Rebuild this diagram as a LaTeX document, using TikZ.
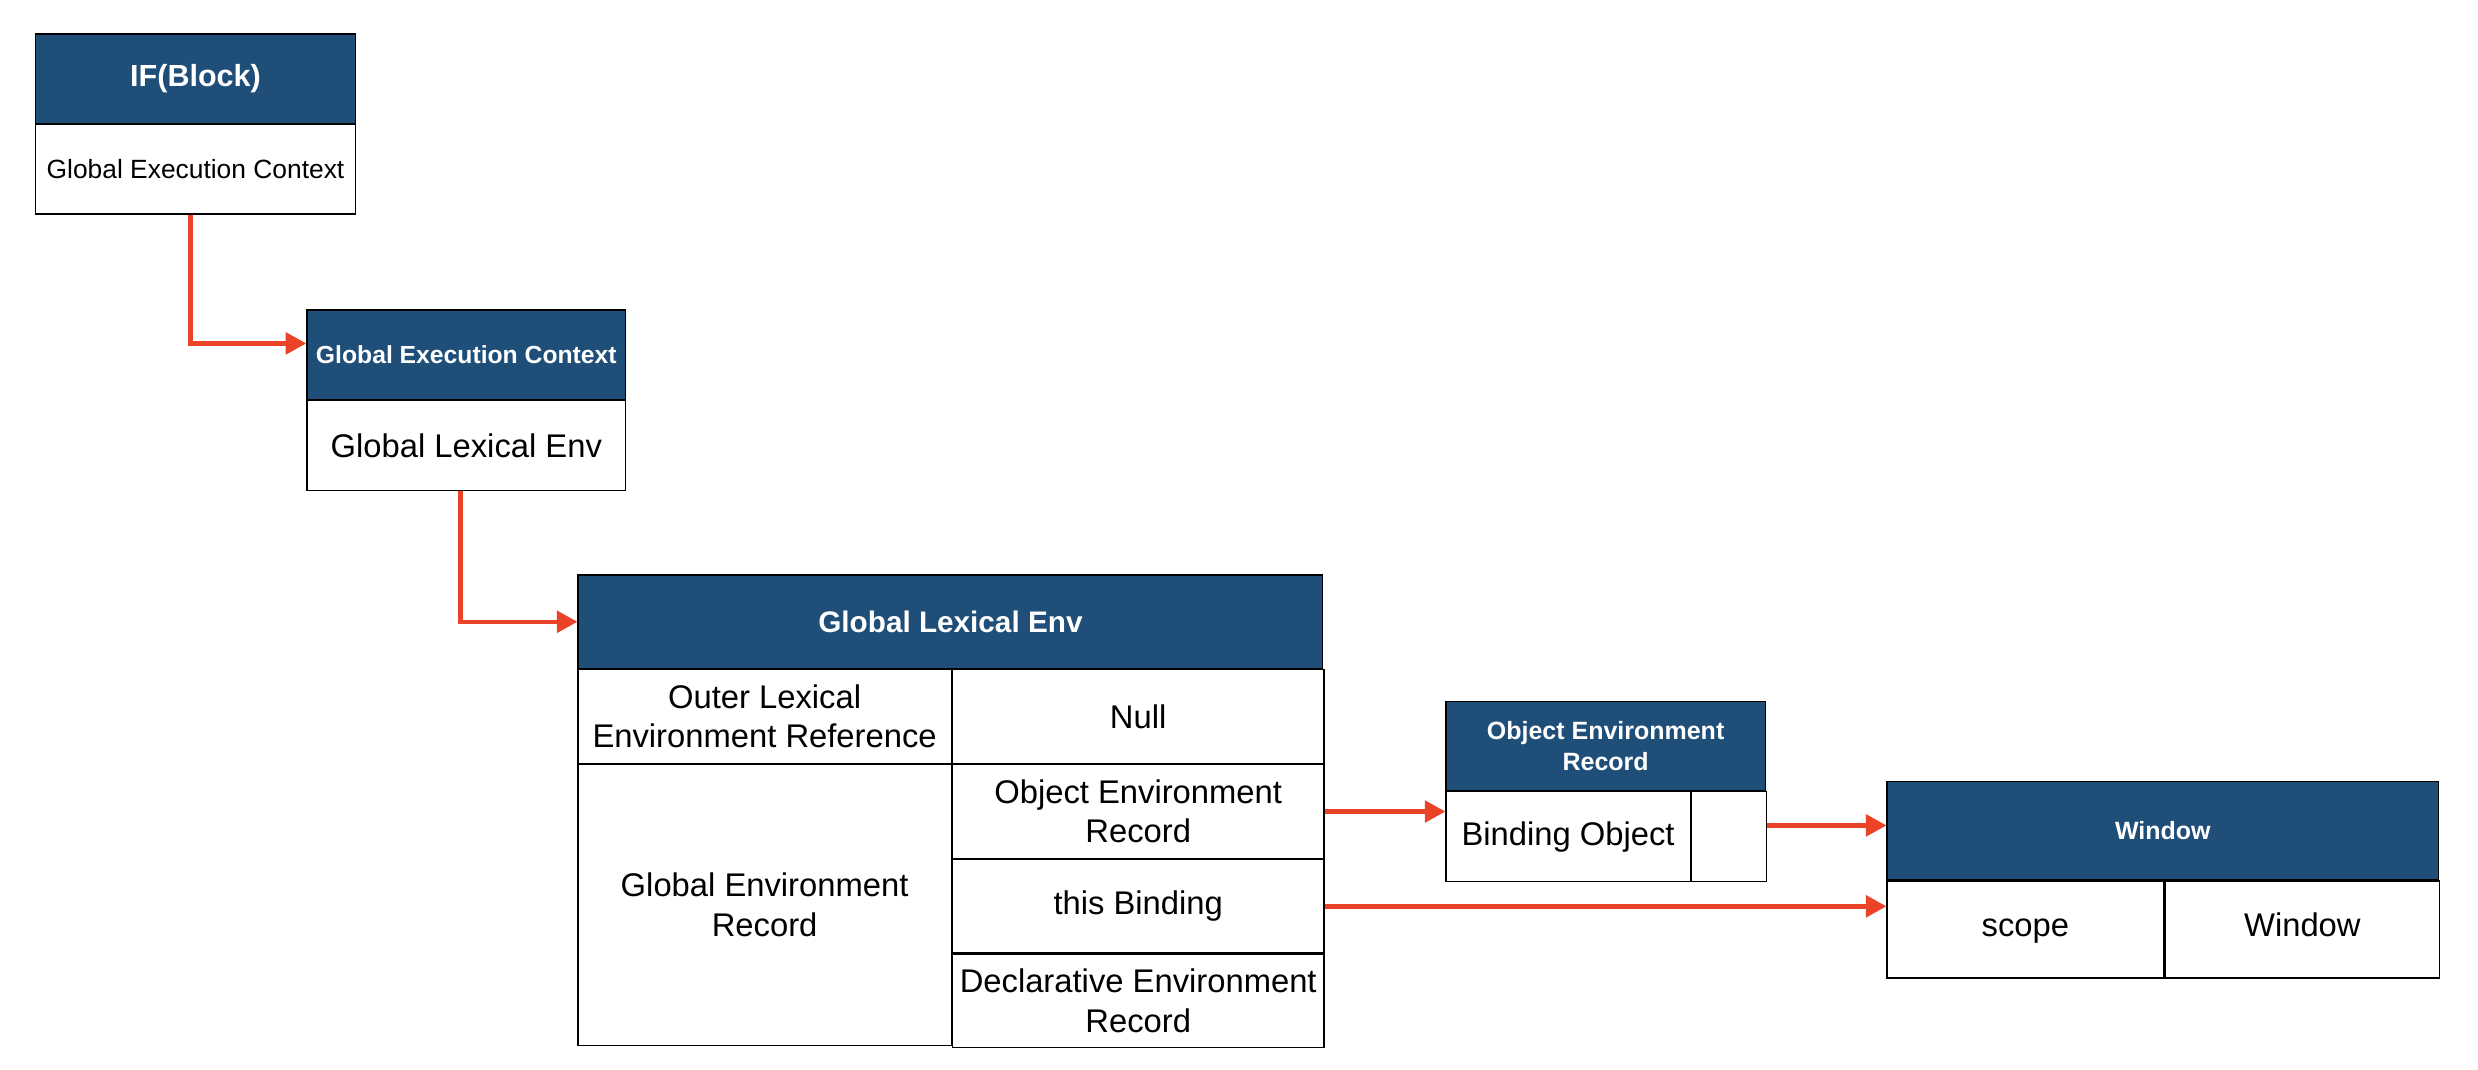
\documentclass[tikz,border=0pt]{standalone}
\usepackage{fontspec}
\setmainfont{Liberation Sans}
\usepackage{xcolor}
\usepackage{tikz}
\usetikzlibrary{calc}
\usetikzlibrary{arrows.meta}

\definecolor{hdrblue}{RGB}{31,78,121}
\definecolor{arrred}{RGB}{234,67,40}

\begin{document}
\begin{tikzpicture}[x=0.02cm,y=-0.02cm,
  hdr/.style={draw=black,fill=hdrblue,text=white,line width=0.45pt,inner sep=0pt,align=center,anchor=north west},
  cell/.style={draw=black,fill=white,line width=0.45pt,inner sep=0pt,align=center,anchor=north west,
    font={\fontsize{11.8}{14.2}\selectfont}},
  oneline/.style={text height=0.72em,text depth=0.21em},
  arr/.style={draw=arrred,line width=1.6pt,-{Triangle[length=0.26cm,width=0.27cm]}}]
\useasboundingbox (0,0) rectangle (1568,677);

% IF block
\node[hdr,minimum width=4.042cm,minimum height=1.13cm,font={\fontsize{11}{13}\selectfont\bfseries}] (ifh) at (22.3,21.1) {IF(Block)};
\node[cell,minimum width=4.042cm,minimum height=1.132cm,font={\fontsize{9.5}{11.4}\selectfont}] (ifb) at (ifh.south west) {Global Execution Context};

% Global execution context
\node[hdr,minimum width=4.036cm,minimum height=1.13cm,font={\fontsize{8.9}{10.7}\selectfont\bfseries}] (gech) at (193.8,195.8) {Global Execution Context};
\node[cell,minimum width=4.036cm,minimum height=1.136cm] (gecb) at (gech.south west) {Global Lexical Env};

% Global lexical env table
\node[hdr,minimum width=9.426cm,minimum height=1.182cm,font={\fontsize{10.7}{12.8}\selectfont\bfseries}] (gleh) at (365.4,363.5) {Global Lexical Env};
\node[cell,minimum width=4.722cm,minimum height=1.184cm] (outer) at (gleh.south west) {Outer Lexical\\Environment Reference};
\node[cell,minimum width=4.704cm,minimum height=1.184cm] (null) at (outer.north east) {Null};
\node[cell,minimum width=4.722cm,minimum height=3.554cm] (genv) at (outer.south west) {Global Environment\\Record};
\node[cell,minimum width=4.704cm,minimum height=1.19cm] (objrec) at (genv.north east) {Object Environment\\Record};
\node[cell,minimum width=4.704cm,minimum height=1.178cm] (thisb) at (objrec.south west) {this Binding};
\node[cell,minimum width=4.704cm,minimum height=1.186cm] (declrec) at (thisb.south west) {Declarative Environment\\Record};

% Object environment record
\node[hdr,minimum width=4.04cm,minimum height=1.13cm,font={\fontsize{9}{11}\selectfont\bfseries}] (oerh) at (914.6,443.3) {Object Environment\\Record};
\node[cell,minimum width=3.09cm,minimum height=1.134cm] (bindobj) at (oerh.south west) {Binding Object};
\node[cell,minimum width=0.95cm,minimum height=1.134cm] (oerval) at (bindobj.north east) {};

% Window
\node[hdr,minimum width=6.98cm,minimum height=1.248cm,font={\fontsize{9}{11}\selectfont\bfseries}] (winh) at (1193.7,493.9) {Window};
\node[cell,oneline,minimum width=3.5cm,minimum height=1.228cm] (scope) at (winh.south west) {scope};
\node[cell,oneline,minimum width=3.48cm,minimum height=1.228cm] (winval) at (scope.north east) {Window};

% Arrows
\draw[arr] ([xshift=-0.065cm]ifb.south) |- ([yshift=-0.43cm]gech.north west);
\draw[arr] ([xshift=-0.074cm]gecb.south) |- (gleh.west);
\draw[arr] (objrec.east) -- (objrec.east -| bindobj.west);
\coordinate (oerout) at ([yshift=-0.434cm]oerval.north east);
\draw[arr] (oerout) -- (oerout -| winh.west);
\draw[arr] (thisb.east) -- (thisb.east -| scope.west);
\end{tikzpicture}
\end{document}
